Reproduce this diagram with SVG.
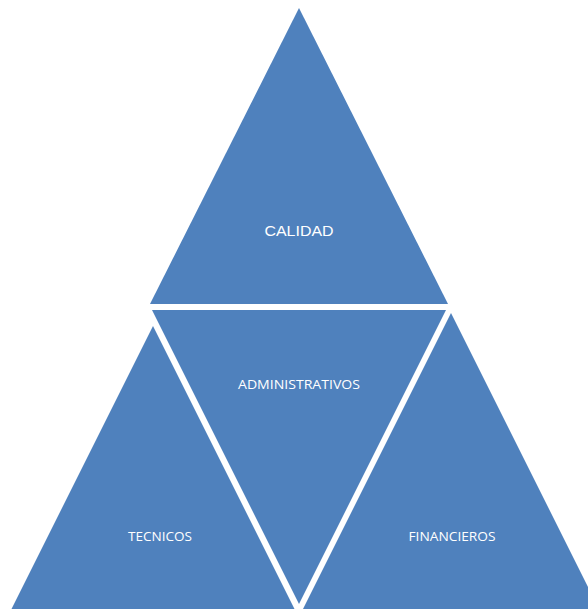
<svg xmlns="http://www.w3.org/2000/svg" width="588" height="609" viewBox="0 0 588 609">
<style>
.tri{fill:#4F81BD;}
.t1{font-family:"Liberation Sans",Arial,sans-serif;font-size:15.5px;fill:#fff;text-anchor:middle;}
.t2{font-family:"Open Sans","Noto Sans",sans-serif;font-size:12.5px;fill:#fff;text-anchor:middle;}
</style>
<rect width="588" height="609" fill="#fff"/>
<g id="calidad">
<polygon class="tri" points="299,8 150,304 448,304"/>
<text class="t1" x="299" y="236" textLength="69" lengthAdjust="spacingAndGlyphs">CALIDAD</text>
</g>
<g id="administrativos">
<polygon class="tri" points="152,310 446,310 299,604"/>
<text class="t2" x="299" y="389" textLength="122" lengthAdjust="spacingAndGlyphs">ADMINISTRATIVOS</text>
</g>
<g id="tecnicos">
<polygon class="tri" points="153,326 5,622 301,622"/>
<text class="t2" x="160" y="541" textLength="64" lengthAdjust="spacingAndGlyphs">TECNICOS</text>
</g>
<g id="financieros">
<polygon class="tri" points="451,313 303,609 599,609"/>
<text class="t2" x="452" y="541" textLength="87" lengthAdjust="spacingAndGlyphs">FINANCIEROS</text>
</g>
<g id="connectors"></g>
</svg>
